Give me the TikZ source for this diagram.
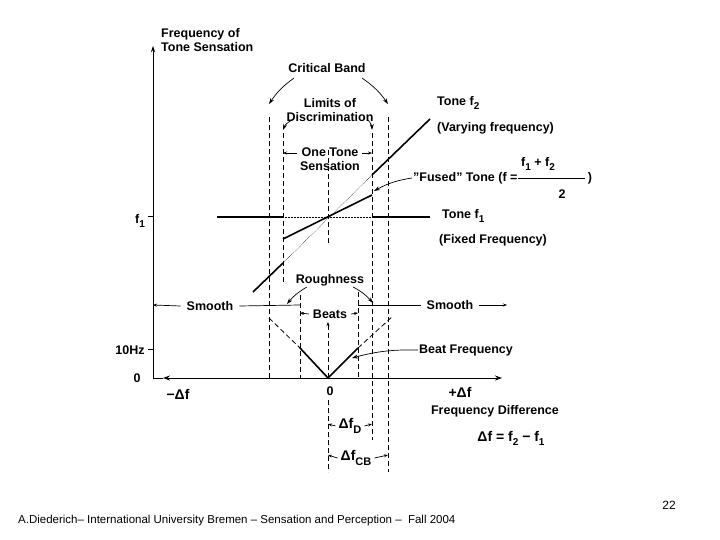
\documentclass[tikz,border=0pt]{standalone}
\usepackage{fontspec}
\setmainfont{Liberation Sans}
\usetikzlibrary{arrows.meta}
\newcommand{\sbs}[1]{\raisebox{-4pt}{\fontsize{10}{11}\selectfont #1}}
\begin{document}
\begin{tikzpicture}[x=1pt,y=-1pt,
  lbl/.style={font=\fontsize{12.5}{14}\selectfont\bfseries, inner sep=1pt, align=center},
  big/.style={font=\fontsize{14}{16}\selectfont\bfseries, inner sep=1pt},
  thick line/.style={line width=1.6pt},
  dsh/.style={dashed, line width=0.8pt, dash pattern=on 5pt off 3pt},
  dot line/.style={densely dotted, line width=0.5pt},
  ax/.style={line width=1pt},
  arr/.style={-{Stealth[length=6pt,width=4pt]}, line width=0.7pt},
  sarr/.style={-{Stealth[length=4pt,width=3pt]}, line width=0.7pt}]
\fill[white] (0,0) rectangle (720,540);
\useasboundingbox (0,0) rectangle (720,540);
% axes
\coordinate (O) at (153,378);
\coordinate (Ytop) at (153,46);
\coordinate (Xl) at (163,378);
\coordinate (Xr) at (502,378);
\draw[ax,arr] (O) -- (Ytop);
\draw[ax] (O) -- (Xl);
\draw[ax,{Stealth[length=7pt,width=5pt]}-{Stealth[length=7pt,width=5pt]}] (Xl) -- (Xr);
\coordinate (t10a) at (148,349); \coordinate (t10b) at (153,349);
\draw[ax] (t10a) -- (t10b);
\coordinate (t1a) at (148,217); \coordinate (t1b) at (153,217);
\draw[ax] (t1a) -- (t1b);
% dashed verticals
\coordinate (cL1) at (269,117); \coordinate (cL2) at (269,378);
\draw[dsh] (cL1) -- (cL2);
\coordinate (cR1) at (388,117); \coordinate (cR2) at (388,472);
\draw[dsh] (cR1) -- (cR2);
\coordinate (dL1) at (283,133); \coordinate (dL2) at (283,285);
\draw[dsh] (dL1) -- (dL2);
\coordinate (dR1) at (372,133); \coordinate (dR2) at (372,440);
\draw[dsh] (dR1) -- (dR2);
\coordinate (bL1) at (300,295); \coordinate (bL2) at (300,378);
\draw[dsh] (bL1) -- (bL2);
\coordinate (bR1) at (358,292); \coordinate (bR2) at (358,378);
\draw[dsh] (bR1) -- (bR2);
\coordinate (c1) at (328,150); \coordinate (c2) at (328,245);
\draw[dsh] (c1) -- (c2);
\coordinate (c3) at (328,400); \coordinate (c4) at (328,472);
\draw[dsh] (c3) -- (c4);
\coordinate (c5) at (328,378); \coordinate (c6) at (328,322);
\draw[dsh,-{Stealth[length=4pt,width=3pt]}] (c5) -- (c6);
% f1 line
\coordinate (f1a) at (217,217); \coordinate (f1b) at (283,217);
\coordinate (f1c) at (372,217); \coordinate (f1d) at (430,217);
\draw[thick line] (f1a) -- (f1b);
\draw[dot line] (f1b) -- (f1c);
\draw[thick line] (f1c) -- (f1d);
% f2 line
\coordinate (f2a) at (253,292); \coordinate (f2b) at (283,263);
\coordinate (f2c) at (372,175); \coordinate (f2d) at (430,119);
\draw[thick line] (f2a) -- (f2b);
\draw[dot line] (f2b) -- (f2c);
\draw[thick line] (f2c) -- (f2d);
% fused line
\coordinate (fu1) at (283,239); \coordinate (fu2) at (372,195);
\draw[thick line] (fu1) -- (fu2);
% V
\coordinate (v1) at (269,318); \coordinate (v2) at (300,348);
\coordinate (v3) at (328,378); \coordinate (v4) at (358,348);
\coordinate (v5) at (393,316);
\draw[dsh] (v1) -- (v2);
\draw[thick line] (v2) -- (v3) -- (v4);
\draw[dsh] (v4) -- (v5);
% texts
\node[lbl, align=left, anchor=west] (ylab) at (160,40) {Frequency of\\Tone Sensation};
\node[lbl] (cb) at (327,68) {Critical Band};
\node[lbl] (lod) at (330,110) {Limits of\\Discrimination};
\node[lbl] (ots) at (330,159) {One Tone\\Sensation};
\node[lbl, anchor=west] (tf2) at (436,103) {Tone f\sbs{2}};
\node[lbl, anchor=west] (vf) at (436,128) {(Varying frequency)};
\node[lbl, anchor=west] (fus) at (412,178) {''Fused'' Tone (f =};
\node[lbl] (num) at (538,164) {f\sbs{1} + f\sbs{2}};
\node[lbl] (den) at (562,194) {2};
\node[lbl] (rp) at (590,178) {)};
\coordinate (fr1) at (518,178); \coordinate (fr2) at (585,178);
\draw[line width=0.8pt] (fr1) -- (fr2);
\node[lbl, anchor=west] (tf1) at (441,216) {Tone f\sbs{1}};
\node[lbl, anchor=west] (ff) at (438,240) {(Fixed Frequency)};
\node[lbl] (f1l) at (140,221) {f\sbs{1}};
\node[lbl] (hz) at (130,350) {10Hz};
\node[lbl] (zl) at (137,378) {0};
\node[lbl] (rough) at (330,280) {Roughness};
\node[lbl, inner xsep=4pt] (beats) at (330,314) {Beats};
\node[lbl] (bf) at (466,350) {Beat Frequency};
\node[big] (mdf) at (178,394) {−Δf};
\node[lbl] (zero) at (330,391) {0};
\node[big] (pdf) at (460,392) {+Δf};
\node[lbl] (fd) at (495,411) {Frequency Difference};
\node[big] (def) at (511,438) {Δf = f\sbs{2} − f\sbs{1}};
\node[big, inner xsep=3pt] (dfd) at (350,426) {Δf\raisebox{-5pt}{\fontsize{11}{12}\selectfont D}};
\node[big, inner xsep=3pt] (dfcb) at (356,458) {Δf\raisebox{-5pt}{\fontsize{11}{12}\selectfont CB}};
\node[lbl, inner xsep=6pt] (sm1) at (210,306) {Smooth};
\node[lbl, inner xsep=6pt] (sm2) at (450,305) {Smooth};
% smooth arrows
\coordinate (s1a) at (153,305); \coordinate (s1b) at (300,305);
\draw[sarr] (sm1.west) -- (s1a);
\draw[line width=0.7pt] (sm1.east) -- (s1b);
\coordinate (s2a) at (358,305); \coordinate (s2b) at (507,305);
\draw[line width=0.7pt] (sm2.west) -- (s2a);
\draw[sarr] (sm2.east) -- (s2b);
% beats arrows
\coordinate (be1) at (300,313); \coordinate (be2) at (358,313);
\draw[sarr] (beats.west) -- (be1);
\draw[sarr] (beats.east) -- (be2);
% one tone arrows
\coordinate (ot1) at (283,153); \coordinate (ot2) at (372,153);
\coordinate (ot1s) at (297,153); \coordinate (ot2s) at (362,153);
\draw[sarr] (ot1s) -- (ot1);
\draw[sarr] (ot2s) -- (ot2);
% curved arrows
\coordinate (cba) at (269,104); \coordinate (cbb) at (388,104);
\coordinate (cbs1) at (294,78); \coordinate (cbs2) at (362,78);
\draw[arr] (cbs1) to[bend right=10] (cba);
\draw[arr] (cbs2) to[bend left=10] (cbb);
\coordinate (la) at (283,130); \coordinate (lb) at (372,130);
\coordinate (ls1) at (292,120); \coordinate (ls2) at (368,120);
\draw[arr] (ls1) to[bend right=20] (la);
\draw[arr] (ls2) to[bend left=20] (lb);
\coordinate (fa) at (374,191);
\draw[arr] (fus.west) to[bend right=10] (fa);
\coordinate (ra) at (287,304); \coordinate (rb) at (373,303);
\draw[arr] (rough.south west) ++(12,0) to[bend right=10] (ra);
\draw[arr] (rough.south east) ++(-12,0) to[bend left=10] (rb);
\coordinate (bfa) at (352,358);
\draw[arr] (bf.west) to[bend right=8] (bfa);
% delta brackets
\coordinate (dd1) at (328,424); \coordinate (dd2) at (372,424);
\draw[sarr] (dfd.west) -- (dd1);
\draw[sarr] (dfd.east) -- (dd2);
\coordinate (dc1) at (328,455); \coordinate (dc2) at (388,455);
\draw[sarr] (dfcb.west) -- (dc1);
\draw[sarr] (dfcb.east) -- (dc2);
% footer
\node[anchor=west, font=\fontsize{11.5}{13}\selectfont, inner sep=0pt] (foot) at (18,521) {A.Diederich– International University Bremen – Sensation and Perception – \ Fall 2004};
\node[font=\fontsize{12}{14}\selectfont, inner sep=0pt] (pg) at (669,505) {22};
\end{tikzpicture}
\end{document}
